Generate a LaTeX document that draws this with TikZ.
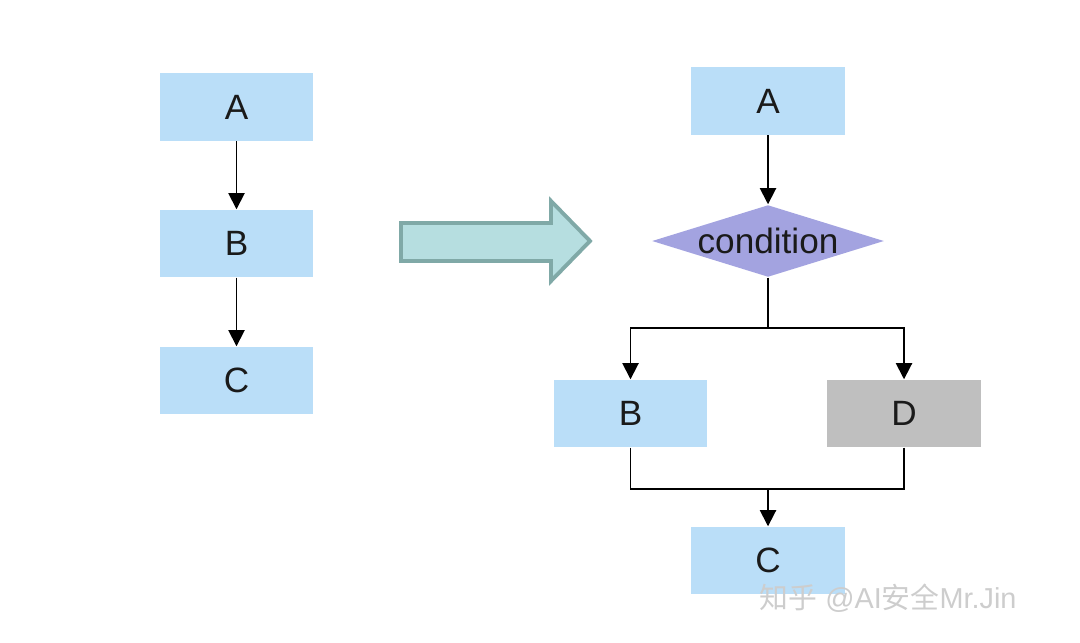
\documentclass[tikz,border=0pt]{standalone}
\usepackage{fontspec}
\setmainfont{Liberation Sans}
\newfontfamily\cjkfont{Noto Sans CJK SC}
\usetikzlibrary{shapes.geometric,arrows.meta}
\definecolor{boxblue}{HTML}{BADEF8}
\definecolor{boxgray}{HTML}{BFBFBF}
\definecolor{diafill}{HTML}{A3A3E0}
\definecolor{arrfill}{HTML}{B6DEE0}
\definecolor{arrline}{HTML}{80A9A7}
\definecolor{wmark}{HTML}{CDCDCD}
\definecolor{txt}{HTML}{1A1A1A}
\tikzset{
  box/.style={rectangle, fill=boxblue, minimum width=1.53cm, minimum height=0.67cm, inner sep=0pt, text=txt, font=\fontsize{10pt}{12pt}\selectfont},
  graybox/.style={box, fill=boxgray},
  cond/.style={diamond, fill=diafill, aspect=3.2, minimum width=2.32cm, minimum height=0.72cm, inner sep=0pt, text=txt, font=\fontsize{10pt}{12pt}\selectfont},
  conn/.style={line width=0.5pt, -{Triangle[width=4.6pt,length=4.6pt]}},
  plain/.style={line width=0.5pt},
}
\begin{document}
\begin{tikzpicture}[x=0.01cm,y=-0.01cm]
\useasboundingbox (0,0) rectangle (1080,642);
% left column
\node[box] (lA) at (236.5,107) {A};
\node[box] (lB) at (236.5,243.5) {B};
\node[box] (lC) at (236.5,380.5) {C};
\draw[conn] (lA) -- (lB);
\draw[conn] (lB) -- (lC);
% big arrow
\draw[fill=arrfill, draw=arrline, line width=1.1pt, line join=miter]
  (401,223) -- (551,223) -- (551,201) -- (590,241) -- (551,281) -- (551,261) -- (401,261) -- cycle;
% right column
\node[box] (rA) at (768,101) {A};
\node[cond] (cd) at (768,241) {condition};
\node[box] (rB) at (630.5,413.5) {B};
\node[graybox] (rD) at (904,413.5) {D};
\node[box] (rC) at (768,560.5) {C};
\coordinate (split) at (768,328);
\coordinate (join) at (768,489);
\draw[conn] (rA) -- (cd);
\draw[plain] (cd.south) -- (split);
\draw[conn] (split) -| (rB.north);
\draw[conn] (split) -| (rD.north);
\draw[plain] (rB.south) |- (join);
\draw[plain] (rD.south) |- (join);
\draw[conn] (join) -- (rC.north);
% watermark
\node[anchor=west, text=wmark, inner sep=0pt, font=\fontsize{8.2pt}{9pt}\selectfont] (wm) at (759,598) {{\cjkfont 知乎} @AI{\cjkfont 安全}Mr.Jin};
\end{tikzpicture}
\end{document}
